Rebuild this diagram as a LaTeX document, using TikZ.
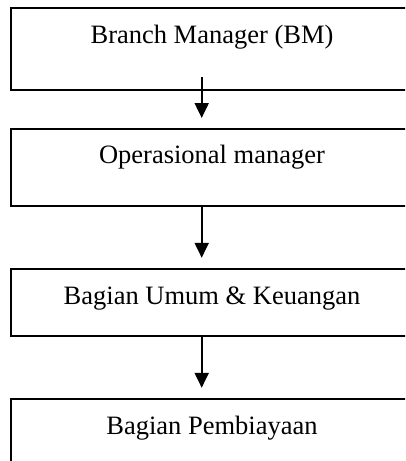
\documentclass[tikz,border=0pt]{standalone}
\usepackage{fontspec}
\setmainfont{Liberation Serif}
\usetikzlibrary{arrows.meta}
\usetikzlibrary{positioning}

\begin{document}
\begin{tikzpicture}[x=1pt,y=1pt,>={Triangle[width=14pt,length=15pt]},line width=2pt,
		unit node/.style={draw,minimum width=403pt,inner sep=0pt,text height=35pt,font=\fontsize{26.5}{30}\selectfont}]

	\useasboundingbox (0,0) rectangle (405,-461);
	\clip (0,0) rectangle (405,-461);

	\node[unit node,anchor=north west,text depth=46.5pt] (BM) at (9.5,-7) {Branch Manager (BM)};
	\node[unit node,text depth=42.2pt] (OM) [below=37pt of BM] {Operasional manager};
	\node[unit node,text depth=31.4pt] (UK) [below=61.6pt of OM] {Bagian Umum \& Keuangan};
	\node[unit node,text depth=45pt] (BP) [below=61.6pt of UK] {Bagian Pembiayaan};

	\draw[->,shorten <=-13.5pt,shorten >=9.5pt] ([xshift=-10.3pt]BM.south) -- ([xshift=-10.3pt]OM.north);
	\draw[->,shorten >=10.5pt] ([xshift=-10.3pt]OM.south) -- ([xshift=-10.3pt]UK.north);
	\draw[->,shorten >=10.5pt] ([xshift=-10.3pt]UK.south) -- ([xshift=-10.3pt]BP.north);

	\end{tikzpicture}
\end{document}
